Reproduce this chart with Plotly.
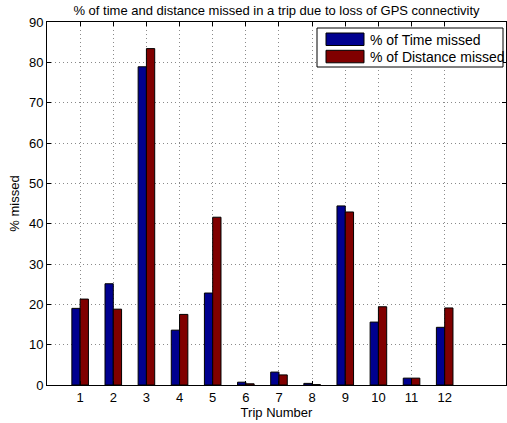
import plotly.graph_objects as go

trips = [1, 2, 3, 4, 5, 6, 7, 8, 9, 10, 11, 12]
time_missed = [19.0, 25.1, 78.9, 13.6, 22.8, 0.7, 3.2, 0.4, 44.4, 15.6, 1.7, 14.3]
distance_missed = [21.3, 18.8, 83.4, 17.5, 41.6, 0.3, 2.5, 0.1, 42.9, 19.4, 1.7, 19.1]
y_ticks = [0, 10, 20, 30, 40, 50, 60, 70, 80, 90]
series_names = ["% of Time missed", "% of Distance missed"]
series_colors = ["#00008F", "#800000"]

FONT = "Liberation Sans, Arial, Helvetica, sans-serif"
W, H = 507, 423
L, R, T, B = 47, 1, 22, 38
PW, PH = W - L - R, H - T - B


def px_x(px):
    return (px - L) / PW


def px_y(py):
    return (H - B - py) / PH


fig = go.Figure()
for vals, name, col in zip([time_missed, distance_missed], series_names, series_colors):
    fig.add_trace(go.Bar(x=trips, y=vals, name=name,
                         marker=dict(color=col, line=dict(color="black", width=1))))

axis_common = dict(showline=True, linecolor="black", linewidth=1, mirror="allticks",
                   ticks="inside", ticklen=4, tickcolor="black", automargin=False,
                   showgrid=True, gridcolor="#8a8a8a", griddash="1px,3px", gridwidth=1,
                   zeroline=False, tickfont=dict(family=FONT, size=13, color="black"))

# legend drawn as a box with wide swatches (MATLAB style)
shapes = [dict(type="rect", xref="paper", yref="paper",
               x0=px_x(317), x1=px_x(503), y0=px_y(67), y1=px_y(28),
               line=dict(color="black", width=1), fillcolor="white", layer="above")]
annotations = []
for i, (name, col) in enumerate(zip(series_names, series_colors)):
    top = 33 + i * 17.3
    shapes.append(dict(type="rect", xref="paper", yref="paper",
                       x0=px_x(326), x1=px_x(364), y0=px_y(top + 12.5), y1=px_y(top),
                       line=dict(color="black", width=1), fillcolor=col, layer="above"))
    annotations.append(dict(xref="paper", yref="paper", x=px_x(368), y=px_y(top + 6.5),
                            xanchor="left", yanchor="middle", showarrow=False,
                            text=name, font=dict(family=FONT, size=14, color="black")))

fig.update_layout(
    width=W, height=H,
    margin=dict(l=L, r=R, t=T, b=B),
    paper_bgcolor="white", plot_bgcolor="white",
    barmode="group", bargap=0.5, bargroupgap=0,
    font=dict(family=FONT, size=13, color="black"),
    title=dict(text="% of time and distance missed in a trip due to loss of GPS connectivity",
               x=(L + W - R) / 2 / W, xanchor="center", y=1 - 10 / H, yanchor="middle",
               yref="container", font=dict(family=FONT, size=13, color="black")),
    xaxis=dict(range=[0, 13.85], tickmode="array", tickvals=trips,
               ticktext=[str(t) for t in trips],
               title=dict(text="Trip Number", font=dict(family=FONT, size=13), standoff=2),
               **axis_common),
    yaxis=dict(range=[0, 90], tickmode="array", tickvals=y_ticks,
               title=dict(text="% missed", font=dict(family=FONT, size=13), standoff=6),
               **axis_common),
    shapes=shapes,
    annotations=annotations,
    showlegend=False,
)

fig.write_html("out.html", config={"displayModeBar": False},
               post_script="document.body.style.margin='0';")
